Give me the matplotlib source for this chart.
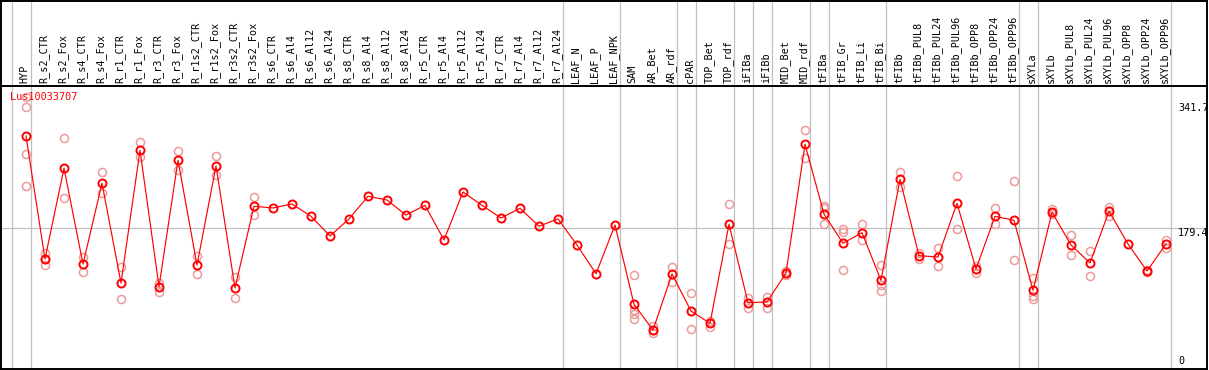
import matplotlib
matplotlib.use("Agg")
import matplotlib.pyplot as plt
import numpy as np

gene = "Lus10033707"

categories = ["HYP", "R_s2_CTR", "R_s2_Fox", "R_s4_CTR", "R_s4_Fox", "R_r1_CTR", "R_r1_Fox",
              "R_r3_CTR", "R_r3_Fox", "R_r1s2_CTR", "R_r1s2_Fox", "R_r3s2_CTR", "R_r3s2_Fox",
              "R_s6_CTR", "R_s6_Al4", "R_s6_Al12", "R_s6_Al24", "R_s8_CTR", "R_s8_Al4",
              "R_s8_Al12", "R_s8_Al24", "R_r5_CTR", "R_r5_Al4", "R_r5_Al12", "R_r5_Al24",
              "R_r7_CTR", "R_r7_Al4", "R_r7_Al12", "R_r7_Al24", "LEAF_N", "LEAF_P", "LEAF_NPK",
              "SAM", "AR_Bet", "AR_rdf", "cPAR", "TOP_Bet", "TOP_rdf", "iFIBa", "iFIBb",
              "MID_Bet", "MID_rdf", "tFIBa", "tFIB_Gr", "tFIB_Li", "tFIB_Bi", "tFIBb",
              "tFIBb_PUL8", "tFIBb_PUL24", "tFIBb_PUL96", "tFIBb_OPP8", "tFIBb_OPP24",
              "tFIBb_OPP96", "sXYLa", "sXYLb", "sXYLb_PUL8", "sXYLb_PUL24", "sXYLb_PUL96",
              "sXYLb_OPP8", "sXYLb_OPP24", "sXYLb_OPP96"]

means = [293.6, 140.3, 253.4, 134.0, 234.7, 110.3, 275.8, 105.7, 263.3, 132.8, 256.2, 104.1, 206.0,
         203.9, 208.9, 193.5, 169.0, 190.2, 218.5, 213.8, 195.1, 207.2, 164.0, 223.8, 207.2,
         191.4, 203.5, 181.2, 190.2, 157.7, 121.9, 182.7,
         83.8, 51.7, 121.6, 75.4, 60.1, 183.5, 85.8, 86.7, 122.8, 283.3, 196.3, 159.9, 173.1,
         113.7, 239.7, 144.4, 142.8, 209.7, 127.8, 193.5, 188.5, 101.2, 198.5, 157.7, 135.3,
         199.8, 159.0, 125.3, 159.0]

replicates = [
    [341.7, 329.4, 270.8, 230.9],
    [147.4, 140.6, 132.8],
    [290.8, 216.0],
    [143.1, 123.7],
    [248.4, 222.2],
    [130.7, 90.0],
    [285.8, 267.8],
    [110.0, 99.5],
    [274.9, 251.2],
    [144.4, 121.6],
    [268.7, 245.0],
    [117.5, 91.3],
    [217.6, 195.5],
    [], [], [], [], [], [], [], [], [], [], [], [], [], [], [], [], [], [], [],
    [119.9, 76.7, 71.7, 65.8],
    [56.7, 47.6, 51.7],
    [130.3, 112.0],
    [97.9, 52.6],
    [63.3, 55.9],
    [208.5, 158.6],
    [91.6, 79.2],
    [93.3, 79.2],
    [125.3, 119.9],
    [300.7, 265.8],
    [206.4, 203.9, 183.9],
    [177.3, 174.3, 126.2],
    [183.5, 164.3],
    [132.8, 107.9, 100.0],
    [248.8, 230.4],
    [147.4, 140.6],
    [154.0, 131.9],
    [243.4, 177.3],
    [131.9, 122.4],
    [203.9, 184.3],
    [237.2, 138.7],
    [116.2, 94.5, 90.8],
    [202.2, 196.4],
    [169.8, 145.3],
    [149.9, 118.7],
    [205.5, 194.0],
    [],
    [126.6, 123.7],
    [164.3, 153.6],
]

# group separators (after these category indices)
separators = [-1, 0, 28, 31, 34, 35, 37, 38, 39, 41, 42, 45, 52, 53, 60]

y_ticks = [341.7, 179.4, 0]
ref_level = 179.4

W, H = 1209, 370
fig = plt.figure(figsize=(W / 100, H / 100), dpi=100)
fig.patch.set_facecolor("white")

# pixel geometry
px_left, px_right = 1, 1207
px_head_top, px_split, px_bottom = 0.5, 86, 369
x0_px, dx_px = 26, 19
y0_px, ky = 371.5, 0.802

xlim = ((px_left - x0_px) / dx_px, (px_right - x0_px) / dx_px)
ylim = ((y0_px - px_bottom) / ky, (y0_px - px_split) / ky)

ax = fig.add_axes([px_left / W, (H - px_bottom) / H, (px_right - px_left) / W, (px_bottom - px_split) / H])
hd = fig.add_axes([px_left / W, (H - px_split) / H, (px_right - px_left) / W, (px_split - px_head_top) / H])

gray = "#c0c0c0"
mono = "DejaVu Sans Mono"

for a in (ax, hd):
    a.set_xlim(*xlim)
    a.set_xticks([])
    a.set_yticks([])
    for s in a.spines.values():
        s.set_color("black")
        s.set_linewidth(1.4)
    for sep in separators:
        a.axvline(sep + 0.24, color=gray, lw=0.9, zorder=0)

ax.set_ylim(*ylim)
ax.spines["top"].set_visible(False)
hd.set_ylim(px_split, 0)

ax.axhline(ref_level, color=gray, lw=0.9, zorder=0)

x = np.arange(len(categories))

# replicates
for i, reps in enumerate(replicates):
    if reps:
        ax.plot([i] * len(reps), reps, linestyle="none", marker="o", ms=5.8, mfc="none",
                mec="#ec9a9a", mew=1.1, zorder=2)

ax.plot(x, means, color="#ff0000", lw=0.85, zorder=3)
ax.plot(x, means, linestyle="none", marker="o", ms=5.8, mfc="none", mec="#ff0000", mew=1.4, zorder=4)

# category labels
for i, c in enumerate(categories):
    hd.text(i - 0.06, 83, c, rotation=90, ha="center", va="bottom", fontsize=7.3,
            family=mono, color="black")

# y labels
lx = (1178 - x0_px) / dx_px
ax.annotate(f"{y_ticks[0]}", xy=(lx, y_ticks[0]), xytext=(0, -4), textcoords="offset points",
            ha="left", va="top", fontsize=7.3, family=mono)
ax.annotate(f"{y_ticks[1]}", xy=(lx, y_ticks[1]), xytext=(0, -0.5), textcoords="offset points",
            ha="left", va="top", fontsize=7.3, family=mono)
ax.annotate(f"{y_ticks[2]}", xy=(lx, ylim[0]), xytext=(0, 2.5), textcoords="offset points",
            ha="left", va="bottom", fontsize=7.3, family=mono)

fig.text(10 / W, 1 - 97 / H, gene, color="#ff0000", ha="left", va="center", fontsize=7.3, family=mono)

fig.savefig("out.png", dpi=100)
